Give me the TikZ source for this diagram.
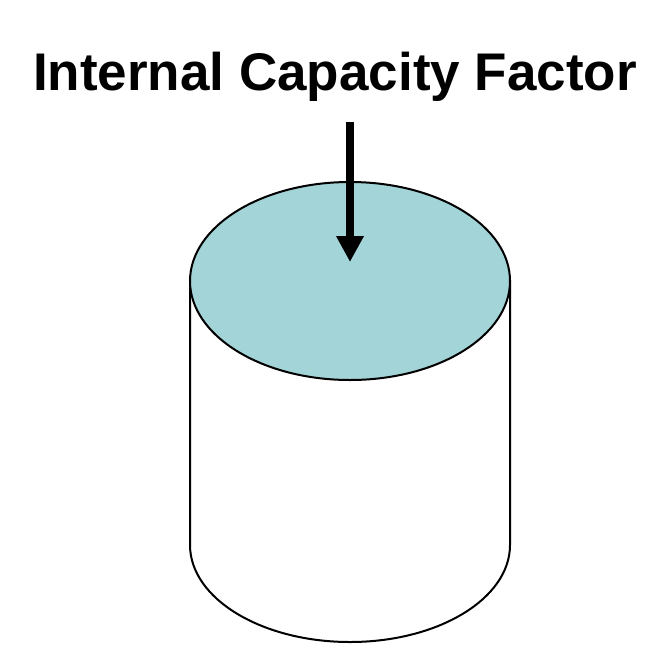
\documentclass[tikz,border=0pt]{standalone}
\usepackage{fontspec}
\setmainfont{Liberation Sans}
\usetikzlibrary{arrows.meta,shapes.geometric}
\definecolor{topfill}{RGB}{162,212,216}
\tikzset{outline/.style={draw=black,line width=2pt}}
\begin{document}
\begin{tikzpicture}[x=1pt,y=-1pt]
\useasboundingbox (0,0) rectangle (671,656);
% body
\path[fill=white,outline] (190,280) -- (190,545) arc[start angle=180,end angle=0,x radius=160,y radius=97] -- (510,280);
\node[outline,fill=topfill,ellipse,minimum width=320pt,minimum height=198pt,inner sep=0pt] (top) at (350,281) {};
\node[font=\bfseries\fontsize{53}{60}\selectfont,inner sep=0pt] (title) at (335,77) {Internal Capacity Factor};
\coordinate (tip) at (350,262);
\draw[line width=8pt,-{Triangle[length=26pt,width=26pt]}] (350,122) -- (tip);
\end{tikzpicture}
\end{document}
